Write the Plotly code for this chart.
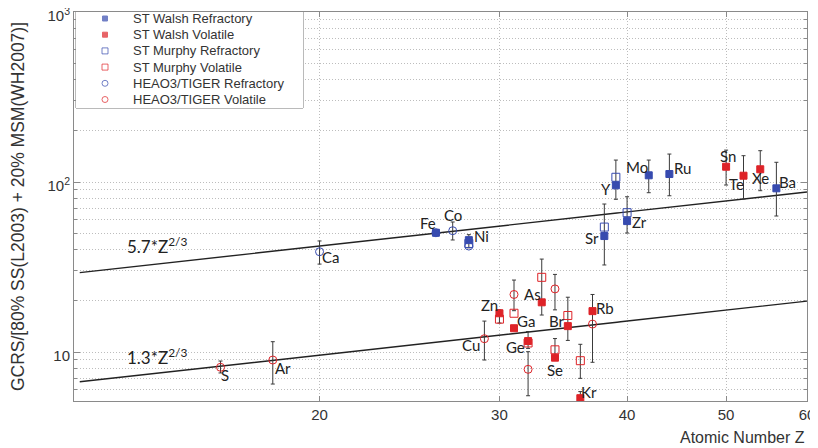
import numpy as np
import plotly.graph_objects as go

# ---------------- data ----------------
# ST Walsh Refractory (filled blue squares)
wr_el = ["Fe", "Ni", "Sr", "Y", "Zr", "Mo", "Ru", "Ba"]
wr_z = [26, 28, 38, 39, 40, 42, 44, 56]
wr_val = [50.3, 45.5, 48.1, 95.6, 58.9, 109.5, 111.4, 91.8]
wr_hi = [None, 49.0, 74.2, 134.6, 81.9, 134.6, 146.0, 130.6]
wr_lo = [None, 41.0, 32.5, 79.1, 50.1, 86.5, 83.0, 63.1]

# ST Walsh Volatile (filled red squares)
wv_el = ["Zn", "Ga", "Ge", "As", "Se", "Br", "Kr", "Rb", "Sn", "Te", "Xe"]
wv_z = [30, 31, 32, 33, 34, 35, 36, 37, 50, 52, 54]
wv_val = [16.9, 13.8, 11.6, 19.6, 9.26, 14.2, 5.35, 17.4, 123.0, 108.9, 118.8]
wv_hi = [17.7, None, 13.2, 35.2, 12.0, 21.0, 5.85, 21.8, 154.0, 142.8, 152.8]
wv_lo = [14.8, None, 10.5, 16.5, 8.97, 11.7, 5.2, 8.7, 96.0, 79.4, 88.9]

# ST Murphy Refractory (open blue squares)
mr_el = ["Ni", "Sr", "Y", "Zr"]
mr_z = [28, 38, 39, 40]
mr_val = [43.5, 54.3, 106.6, 66.0]
mr_hi = [None, None, None, None]
mr_lo = [None, None, None, None]

# ST Murphy Volatile (open red squares)
mv_el = ["Zn", "Ga", "Ge", "As", "Se", "Br", "Kr"]
mv_z = [30, 31, 32, 33, 34, 35, 36]
mv_val = [15.6, 16.9, 11.3, 27.5, 10.3, 16.4, 8.89]
mv_hi = [None, None, None, None, None, None, 11.1]
mv_lo = [None, None, None, None, None, None, 7.0]

# HEAO3/TIGER Refractory (open blue circles)
hr_el = ["Ca", "Fe", "Co", "Ni"]
hr_z = [20, 26, 27, 28]
hr_val = [38.9, 50.3, 51.7, 42.0]
hr_hi = [45.0, None, 58.2, None]
hr_lo = [32.9, None, 45.6, None]

# HEAO3/TIGER Volatile (open red circles)
hv_el = ["S", "Ar", "Cu", "Ga", "Ge", "Se", "Rb"]
hv_z = [16, 18, 29, 31, 32, 34, 37]
hv_val = [8.13, 8.97, 11.97, 21.8, 7.91, 23.5, 14.6]
hv_hi = [8.85, 11.5, 15.2, 26.5, 10.04, 28.6, None]
hv_lo = [7.53, 6.48, 8.97, 17.5, 5.53, 17.7, None]

# reference lines  coef * Z^(2/3)
line_coefs = [5.7, 1.3]
line_labels = ["5.7*Z<sup>2/3</sup>", "1.3*Z<sup>2/3</sup>"]

# axis ticks
x_ticks = [20, 30, 40, 50, 60]
y_ticks = [10, 100, 1000]
y_ticktext = ["10", "10<sup>2</sup>", "10<sup>3</sup>"]
y_minor = [6, 7, 8, 9, 20, 30, 40, 50, 60, 70, 80, 90, 200, 300, 400, 500, 600, 700, 800, 900]

# ---------------- styling / layout ----------------
BLUE = "rgb(55,75,175)"
RED = "rgb(222,35,40)"
X_MIN, X_MAX = 11.5, 60
Y_MIN, Y_MAX = 5.15, 1000

series = [
    dict(name="ST Walsh Refractory", el=wr_el, z=wr_z, v=wr_val, hi=wr_hi, lo=wr_lo,
         symbol="square", color=BLUE, size=7),
    dict(name="ST Walsh Volatile", el=wv_el, z=wv_z, v=wv_val, hi=wv_hi, lo=wv_lo,
         symbol="square", color=RED, size=7),
    dict(name="ST Murphy Refractory", el=mr_el, z=mr_z, v=mr_val, hi=mr_hi, lo=mr_lo,
         symbol="square-open", color=BLUE, size=8),
    dict(name="ST Murphy Volatile", el=mv_el, z=mv_z, v=mv_val, hi=mv_hi, lo=mv_lo,
         symbol="square-open", color=RED, size=8),
    dict(name="HEAO3/TIGER Refractory", el=hr_el, z=hr_z, v=hr_val, hi=hr_hi, lo=hr_lo,
         symbol="circle-open", color=BLUE, size=8),
    dict(name="HEAO3/TIGER Volatile", el=hv_el, z=hv_z, v=hv_val, hi=hv_hi, lo=hv_lo,
         symbol="circle-open", color=RED, size=8),
]

fig = go.Figure()

# model lines
zz = np.geomspace(11.65, X_MAX, 200)
for c in line_coefs:
    fig.add_trace(go.Scatter(x=zz, y=c * zz ** (2.0 / 3.0), mode="lines",
                             line=dict(color="#222222", width=1.4),
                             showlegend=False, hoverinfo="skip"))

# error bars (only points that have them)
for s in series:
    ez, ev, ep, em = [], [], [], []
    for z, v, h, l in zip(s["z"], s["v"], s["hi"], s["lo"]):
        if h is None:
            continue
        ez.append(z)
        ev.append(v)
        ep.append(h - v)
        em.append(v - l)
    if ez:
        fig.add_trace(go.Scatter(
            x=ez, y=ev, mode="markers", marker=dict(size=1, opacity=0),
            error_y=dict(type="data", symmetric=False, array=ep, arrayminus=em,
                         color="#3a3a3a", thickness=1, width=2),
            showlegend=False, hoverinfo="skip"))

# markers
for s in series:
    fig.add_trace(go.Scatter(
        x=s["z"], y=s["v"], mode="markers", name=s["name"],
        marker=dict(symbol=s["symbol"], color=s["color"], size=s["size"],
                    line=dict(color=s["color"], width=1)),
        text=s["el"], showlegend=False))

# ---- legend drawn in its own small overlay axes (box units = px inside the box)
LEG_W, LEG_H = 227, 96
leg_rows = list(range(len(series)))
fig.add_trace(go.Scatter(
    x=[29] * len(series), y=[6.5 + 16.2 * r for r in leg_rows],
    xaxis="x2", yaxis="y2", mode="markers", showlegend=False, hoverinfo="skip",
    marker=dict(symbol=[s["symbol"] for s in series],
                color=[s["color"] for s in series],
                size=[5 if s["symbol"] == "square" else 6 for s in series],
                line=dict(color=[s["color"] for s in series], width=1))))

annotations = []
for r, s in zip(leg_rows, series):
    annotations.append(dict(x=55, y=6.5 + 16.2 * r, xref="x2", yref="y2",
                            text=s["name"], showarrow=False,
                            xanchor="left", yanchor="middle",
                            font=dict(family="Liberation Sans", size=13, color="#333333")))

# element labels: offsets (px) of the label centre relative to the point
label_offsets = {
    "Fe": (-8, 10), "Co": (0, 16), "Ni": (13, 4), "Ca": (11, -5), "Sr": (-12, -2),
    "Y": (-10, -4), "Mo": (-12, 8), "Ru": (13, 6), "Zr": (12, -1), "Sn": (2, 11),
    "Te": (-7, -8), "Xe": (0, -9), "Ba": (11, 6), "S": (4, -8), "Ar": (10, -8),
    "Cu": (-13, -6), "Zn": (-10, 8), "Ga": (12, 7), "Ge": (-13, -6), "As": (-9, 8),
    "Se": (0, -12), "Br": (-11, 5), "Kr": (9, 6), "Rb": (12, 3),
}
anchor_order = [series[0], series[1], series[4], series[5], series[2], series[3]]
for el, (dx, dy) in label_offsets.items():
    for s in anchor_order:
        if el in s["el"]:
            i = s["el"].index(el)
            annotations.append(dict(
                x=np.log10(s["z"][i]), y=np.log10(s["v"][i]), xref="x", yref="y",
                text=el, showarrow=False, xshift=dx, yshift=dy,
                xanchor="center", yanchor="middle",
                font=dict(family="Lato", size=15, color="#222222")))
            break

# line labels
for txt, yp in zip(line_labels, [0.40, 0.115]):
    annotations.append(dict(x=0.069, y=yp, xref="paper", yref="paper", text=txt,
                            showarrow=False, xanchor="left", yanchor="middle",
                            font=dict(family="Lato", size=17, color="#222222")))

# axis titles
annotations.append(dict(x=1.0, y=-0.093, xref="paper", yref="paper",
                        text="Atomic Number Z", showarrow=False,
                        xanchor="right", yanchor="middle",
                        font=dict(family="Liberation Sans", size=16, color="#333333")))
annotations.append(dict(x=-0.077, y=0.5, xref="paper", yref="paper",
                        text="GCRS/[80% SS(L2003) + 20% MSM(WH2007)]",
                        showarrow=False, textangle=-90,
                        xanchor="center", yanchor="middle",
                        font=dict(family="Liberation Sans", size=17.5, color="#333333")))

grid_col = "#bdbdbd"
grid_dash = "1px,2px"
axis_col = "#8a8a8a"
# the page puts the figure 8px in from the top-left corner; margins compensate
PAGE_OFF = 8
ML, MR, MT, MB = 74 - PAGE_OFF, 11 + PAGE_OFF, 12 - PAGE_OFF, 47 + PAGE_OFF
PLOT_W, PLOT_H = 818 - ML - MR, 448 - MT - MB

fig.update_layout(
    width=818, height=448,
    margin=dict(l=ML, r=MR, t=MT, b=MB, autoexpand=False),
    paper_bgcolor="white", plot_bgcolor="white",
    font=dict(family="Liberation Sans", size=15, color="#333333"),
    showlegend=False,
    annotations=annotations,
    shapes=[dict(type="rect", xref="paper", yref="paper",
                 x0=2 / PLOT_W, x1=(2 + LEG_W) / PLOT_W, y0=1 - LEG_H / PLOT_H, y1=1.0,
                 line=dict(color="#777777", width=1), fillcolor="white",
                 layer="between")],
    xaxis=dict(
        type="log", range=[np.log10(X_MIN), np.log10(X_MAX)], automargin=False,
        tickvals=x_ticks, ticktext=[str(t) for t in x_ticks],
        showgrid=True, gridcolor=grid_col, griddash=grid_dash, gridwidth=1,
        ticks="inside", ticklen=5, tickcolor=axis_col, ticklabeloverflow="allow",
        showline=True, linecolor=axis_col, linewidth=1, mirror="ticks",
        zeroline=False, tickfont=dict(size=15, color="#333333"),
    ),
    yaxis=dict(
        type="log", range=[np.log10(Y_MIN), np.log10(Y_MAX)], automargin=False,
        tickvals=y_ticks, ticktext=y_ticktext, ticklabeloverflow="allow",
        ticklabelshift=4,
        showgrid=True, gridcolor=grid_col, griddash=grid_dash, gridwidth=1,
        ticks="inside", ticklen=6, tickcolor=axis_col,
        minor=dict(tickvals=y_minor, showgrid=True, gridcolor=grid_col, griddash=grid_dash,
                   ticks="inside", ticklen=3, tickcolor=axis_col),
        showline=True, linecolor=axis_col, linewidth=1, mirror="ticks",
        zeroline=False, tickfont=dict(size=15, color="#333333"),
    ),
    xaxis2=dict(domain=[2 / PLOT_W, (2 + LEG_W) / PLOT_W], range=[0, LEG_W],
                anchor="y2", visible=False, fixedrange=True),
    yaxis2=dict(domain=[1 - LEG_H / PLOT_H, 1.0], range=[LEG_H, 0],
                anchor="x2", visible=False, fixedrange=True),
)

fig.write_html("out.html")
